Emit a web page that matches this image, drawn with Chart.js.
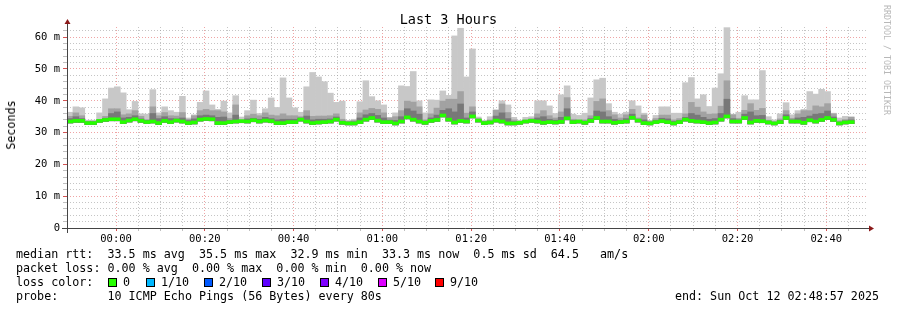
<!DOCTYPE html>
<html>
<head>
<meta charset="utf-8">
<script src="https://cdn.jsdelivr.net/npm/chart.js@4.4.0/dist/chart.umd.min.js"></script>
<style>
  body { margin: 0; background: #fff; }
  #wrap { position: relative; width: 897px; height: 310px; font-family: "DejaVu Sans Mono", monospace; color: #000; }
  #wrap canvas { position: absolute; left: 0; top: 0; }
  .txt { position: absolute; white-space: pre; font-size: 11.7px; line-height: 14px; }
  .box { display: inline-block; width: 7px; height: 7px; border: 1px solid #000; vertical-align: -1px; margin-right: 6px; }
  #title { position: absolute; left: 0; width: 897px; top: 11px; text-align: center; font-size: 13.5px; line-height: 16px; }
  #ylab { position: absolute; left: 11px; top: 125px; font-size: 11.7px; transform: translate(-50%, -50%) rotate(-90deg); white-space: pre; }
  #mark { position: absolute; left: 882px; top: 5px; writing-mode: vertical-rl; font-size: 8.3px; color: #b8b8b8; white-space: pre; }
</style>
</head>
<body>
<div id="wrap">
  <canvas id="smoke" width="897" height="310"></canvas>
  <div id="title">Last 3 Hours</div>
  <div id="ylab">Seconds</div>
  <div id="mark">RRDTOOL / TOBI OETIKER</div>
  <div class="txt" style="left:16px;top:247px">median rtt:  33.5 ms avg  35.5 ms max  32.9 ms min  33.3 ms now  0.5 ms sd  64.5   am/s</div>
  <div class="txt" style="left:16px;top:261px">packet loss: 0.00 % avg  0.00 % max  0.00 % min  0.00 % now</div>
  <div class="txt" style="left:16px;top:275px">loss color:</div>
  <div id="losscolors"></div>
  <div class="txt" style="left:16px;top:289px">probe:       10 ICMP Echo Pings (56 Bytes) every 80s</div>
  <div class="txt" style="right:18px;top:289px">end: Sun Oct 12 02:48:57 2025</div>
</div>
<script>
// one column every 80 s, window starts 23:48:57
const STEP_MIN = 80 / 60;
const WINDOW_MIN = 180;
const FIRST_TICK_MIN = 11.05;   // 00:00
const timeLabels = ['00:00', '00:20', '00:40', '01:00', '01:20', '01:40', '02:00', '02:20', '02:40'];
const yLabelValues = [0, 10, 20, 30, 40, 50, 60];

// median rtt (ms)
const medRtt = [
  33.5, 33.7, 33.7, 33.0, 33.0, 33.7, 34.0, 34.2, 34.2, 33.3, 33.8, 34.2, 33.7, 33.3, 33.5, 33.0, 33.7, 33.3, 33.8, 33.5, 33.0, 33.2, 34.1, 34.3, 34.2, 33.0, 33.0,
  33.3, 33.5, 33.6, 33.5, 33.9, 33.5, 33.8, 33.6, 33.0, 33.0, 33.3, 33.3, 34.1, 33.5, 33.0, 33.2, 33.3, 33.5, 34.1, 33.1, 32.9, 32.9, 33.3, 34.1, 34.6, 33.8, 33.3,
  33.3, 32.9, 33.5, 34.8, 34.1, 33.5, 33.1, 33.7, 34.0, 35.4, 34.1, 33.2, 33.7, 33.5, 35.1, 33.8, 33.0, 33.2, 33.8, 33.5, 32.9, 32.9, 33.1, 33.5, 33.7, 33.5, 33.1,
  33.3, 33.2, 33.4, 34.5, 33.3, 33.5, 33.1, 33.7, 34.6, 33.5, 33.5, 33.1, 33.3, 33.5, 34.7, 33.8, 33.0, 32.9, 33.3, 33.6, 33.3, 32.9, 33.3, 34.1, 33.7, 33.5, 33.3,
  33.0, 33.2, 34.1, 35.1, 33.5, 33.5, 34.6, 33.2, 33.7, 33.6, 33.2, 32.9, 33.3, 34.6, 33.5, 33.5, 33.1, 33.9, 33.5, 34.0, 34.6, 34.0, 32.9, 33.2, 33.3
];

// smoke: top of the outer (max ping) band
const smokeHi = [
  36.4, 38.1, 37.8, 33.9, 33.9, 36.2, 40.6, 44.0, 44.4, 42.5, 37.2, 39.8, 35.9, 35.8, 43.5, 36.2, 38.1, 36.9, 36.4, 41.4, 34.6, 35.6, 39.5, 43.1, 38.7, 37.3, 39.9,
  36.2, 41.6, 34.9, 36.9, 40.2, 36.0, 37.5, 40.9, 37.9, 47.2, 40.9, 37.8, 36.4, 44.4, 48.9, 47.5, 46.0, 42.4, 39.5, 39.9, 33.8, 34.2, 39.7, 46.3, 41.3, 40.0, 38.7,
  34.8, 36.2, 44.7, 44.5, 49.2, 40.0, 36.2, 40.3, 40.2, 43.1, 41.7, 60.4, 62.8, 47.5, 56.3, 34.9, 33.8, 35.0, 37.2, 40.0, 38.7, 34.8, 33.9, 34.8, 35.0, 40.0, 40.0,
  38.4, 36.0, 41.9, 44.7, 35.8, 35.4, 36.1, 40.9, 46.6, 47.1, 39.1, 36.4, 35.8, 36.4, 40.0, 38.4, 36.1, 33.8, 35.4, 38.1, 38.1, 36.1, 36.1, 45.7, 47.3, 40.6, 41.9,
  38.2, 44.0, 48.5, 63.0, 35.8, 36.4, 41.6, 40.3, 40.3, 49.5, 35.0, 34.0, 35.9, 39.4, 35.6, 36.9, 37.3, 42.9, 42.1, 43.6, 42.9, 36.1, 34.6, 35.1, 35.0
];

// smoke: top of the middle band
const smokeMid = [
  35.1, 36.2, 35.3, 33.6, 33.6, 34.0, 35.1, 37.5, 37.5, 35.6, 35.9, 36.9, 35.1, 34.0, 38.1, 35.3, 36.3, 35.3, 35.2, 36.3, 34.2, 35.3, 36.9, 37.3, 36.9, 36.9, 36.5,
  34.5, 38.7, 34.0, 35.3, 35.8, 35.3, 36.2, 35.5, 35.3, 35.9, 35.3, 35.3, 35.0, 36.9, 35.1, 35.2, 35.2, 35.3, 35.9, 34.2, 33.6, 33.8, 36.2, 37.1, 37.6, 37.3, 36.2,
  34.6, 35.0, 36.9, 39.9, 39.6, 38.1, 34.0, 35.9, 37.7, 39.9, 40.5, 40.5, 42.9, 36.1, 38.1, 34.4, 33.6, 34.0, 37.0, 39.0, 36.3, 34.0, 33.6, 34.0, 34.4, 35.9, 36.9,
  35.3, 34.6, 36.5, 41.0, 34.2, 34.0, 34.0, 35.3, 39.8, 40.6, 36.9, 35.6, 34.6, 35.6, 37.3, 34.6, 35.5, 33.6, 34.4, 35.5, 35.5, 34.0, 34.4, 35.9, 39.5, 38.0, 36.5,
  35.8, 35.9, 38.3, 46.3, 35.6, 34.5, 37.0, 39.1, 37.0, 37.6, 33.9, 33.5, 34.3, 36.9, 34.5, 35.9, 36.9, 36.9, 38.4, 38.1, 39.1, 35.9, 33.7, 34.1, 34.8
];

// smoke: top of the inner (dark) band
const smokeLow = [
  34.4, 35.0, 34.4, 33.4, 33.4, 33.8, 34.5, 36.0, 36.5, 34.6, 34.8, 35.3, 34.3, 33.9, 36.0, 34.4, 35.0, 34.4, 34.3, 34.6, 33.8, 34.3, 35.3, 35.5, 35.3, 34.8, 34.9,
  33.9, 35.5, 33.9, 34.3, 34.5, 34.2, 34.8, 34.4, 34.0, 34.2, 34.2, 34.2, 34.6, 35.2, 34.0, 34.2, 34.2, 34.3, 34.9, 33.6, 33.3, 33.4, 34.6, 35.6, 36.0, 35.4, 34.6,
  33.9, 33.8, 35.0, 37.5, 36.8, 35.8, 33.6, 34.6, 35.5, 37.0, 37.5, 36.5, 39.0, 34.6, 36.5, 34.1, 33.4, 33.6, 35.2, 36.2, 34.4, 33.5, 33.4, 33.8, 34.1, 34.6, 35.0,
  34.2, 33.9, 34.8, 37.5, 33.8, 33.8, 33.6, 34.4, 36.8, 36.5, 35.0, 34.2, 33.9, 34.4, 35.8, 34.2, 34.0, 33.3, 33.8, 34.5, 34.3, 33.5, 33.8, 34.8, 36.0, 35.5, 34.8,
  34.2, 34.4, 36.0, 40.5, 34.4, 34.0, 35.8, 36.5, 35.3, 35.4, 33.6, 33.2, 33.8, 35.6, 34.0, 34.6, 34.8, 35.2, 35.8, 36.0, 36.8, 34.9, 33.3, 33.7, 34.0
];

const lossColors = [
  { label: '0',    color: '#26ff00', x: 108 },
  { label: '1/10', color: '#00b8ff', x: 146 },
  { label: '2/10', color: '#0059ff', x: 204 },
  { label: '3/10', color: '#5e00ff', x: 262 },
  { label: '4/10', color: '#7e00ff', x: 320 },
  { label: '5/10', color: '#dd00ff', x: 378 },
  { label: '9/10', color: '#ff0000', x: 435 },
];

var holder = document.getElementById('losscolors');
lossColors.forEach(function(l) {
  var d = document.createElement('div');
  d.className = 'txt';
  d.style.left = l.x + 'px';
  d.style.top = '275px';
  d.innerHTML = '<span class="box" style="background:' + l.color + '"></span>' + l.label;
  holder.appendChild(d);
});

function band(top) {
  return medRtt.map(function(m, i) {
    return { x: (i + 0.5) * STEP_MIN, y: [m - 0.5, top[i]] };
  });
}

var medianBars = medRtt.map(function(m, i) {
  return { x: (i + 0.5) * STEP_MIN, y: [m - 0.45, m + 0.45] };
});

function isMajorX(c) {
  if (!c.tick) return false;
  var k = Math.round((c.tick.value - FIRST_TICK_MIN) / 5);
  return k % 4 === 0;
}
function isMajorY(c) {
  return !!c.tick && c.tick.value % 10 === 0;
}

// rrdtool style axis lines with arrow heads
const axisArrows = {
  id: 'axisArrows',
  afterDraw(chart) {
    const ctx = chart.ctx;
    const a = chart.chartArea;
    ctx.save();
    ctx.strokeStyle = '#444';
    ctx.lineWidth = 1;
    ctx.beginPath();
    ctx.moveTo(a.left - 5, a.bottom + 0.5);
    ctx.lineTo(a.right + 3, a.bottom + 0.5);
    ctx.moveTo(a.left + 0.5, a.bottom + 5);
    ctx.lineTo(a.left + 0.5, a.top - 3);
    ctx.stroke();
    ctx.fillStyle = '#8b1a1a';
    ctx.beginPath();
    ctx.moveTo(a.right + 8, a.bottom + 0.5);
    ctx.lineTo(a.right + 3, a.bottom - 2.5);
    ctx.lineTo(a.right + 3, a.bottom + 3.5);
    ctx.closePath();
    ctx.fill();
    ctx.beginPath();
    ctx.moveTo(a.left + 0.5, a.top - 8);
    ctx.lineTo(a.left - 2.5, a.top - 3);
    ctx.lineTo(a.left + 3.5, a.top - 3);
    ctx.closePath();
    ctx.fill();
    ctx.restore();
  }
};

var barBase = { grouped: false, barPercentage: 1, categoryPercentage: 1, borderWidth: 0 };

new Chart(document.getElementById('smoke'), {
  type: 'bar',
  data: {
    datasets: [
      Object.assign({ label: 'median', data: medianBars, backgroundColor: '#26ff00', order: 0 }, barBase),
      Object.assign({ label: 'smoke3', data: band(smokeLow), backgroundColor: '#787878', order: 1 }, barBase),
      Object.assign({ label: 'smoke2', data: band(smokeMid), backgroundColor: '#a2a2a2', order: 2 }, barBase),
      Object.assign({ label: 'smoke1', data: band(smokeHi), backgroundColor: '#c8c8c8', order: 3 }, barBase),
    ]
  },
  options: {
    responsive: false,
    devicePixelRatio: 1,
    animation: false,
    layout: { padding: { top: 27, right: 31, left: 0, bottom: 0 } },
    plugins: { legend: { display: false }, tooltip: { enabled: false }, title: { display: false } },
    scales: {
      x: {
        type: 'linear',
        min: 0,
        max: WINDOW_MIN,
        offset: false,
        z: 1,
        afterFit: function(s) { s.height = 82; },
        afterBuildTicks: function(s) {
          var t = [];
          for (var v = FIRST_TICK_MIN; v < WINDOW_MIN; v += 5) t.push({ value: v });
          s.ticks = t;
        },
        border: { display: false, dash: [1, 2] },
        grid: {
          offset: false,
          tickLength: 3,
          color: function(c) { return isMajorX(c) ? 'rgba(225,90,90,0.55)' : 'rgba(150,150,150,0.55)'; },
          tickColor: function(c) { return isMajorX(c) ? 'rgba(200,40,40,0.8)' : 'rgba(150,150,150,0.6)'; }
        },
        ticks: {
          autoSkip: false, maxRotation: 0, minRotation: 0, padding: 2,
          color: '#000',
          font: { family: 'DejaVu Sans Mono', size: 10.5 },
          callback: function(v) {
            var k = Math.round((v - FIRST_TICK_MIN) / 5);
            return k % 4 === 0 ? timeLabels[k / 4] : '';
          }
        }
      },
      y: {
        min: 0,
        max: 63.2,
        z: 1,
        afterFit: function(s) { s.width = 67; },
        afterBuildTicks: function(s) {
          var t = [];
          for (var v = 0; v <= 62; v += 2) t.push({ value: v });
          s.ticks = t;
        },
        border: { display: false, dash: [1, 2] },
        grid: {
          tickLength: 4,
          color: function(c) { return isMajorY(c) ? 'rgba(225,90,90,0.55)' : 'rgba(150,150,150,0.55)'; },
          tickColor: function(c) { return isMajorY(c) ? 'rgba(200,40,40,0.8)' : 'rgba(150,150,150,0.6)'; }
        },
        ticks: {
          autoSkip: false,
          padding: 3,
          color: '#000',
          font: { family: 'DejaVu Sans Mono', size: 10.5 },
          callback: function(v) {
            if (yLabelValues.indexOf(v) < 0) return '';
            return v === 0 ? '0' : v + ' m';
          }
        }
      }
    }
  },
  plugins: [axisArrows]
});
</script>
</body>
</html>
